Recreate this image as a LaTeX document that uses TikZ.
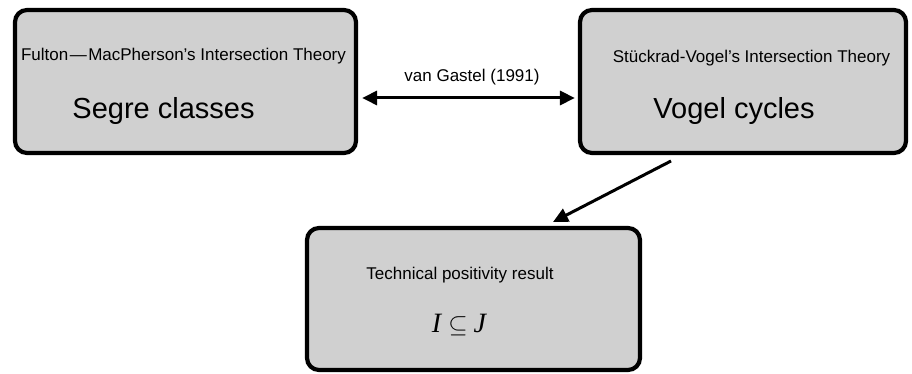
\documentclass[tikz,border=0pt]{standalone}
\usepackage{fontspec}
\setmainfont{Liberation Sans}
\newfontfamily\timesit{Liberation Serif}
\usetikzlibrary{arrows.meta}
\definecolor{boxgray}{RGB}{208,208,208}
\tikzset{
  box/.style={draw=black, fill=boxgray, line width=4.2pt, rounded corners=12pt, inner sep=0pt, rectangle},
  smalltxt/.style={inner sep=0pt, anchor=base, font=\fontsize{17}{20}\selectfont},
  bigtxt/.style={inner sep=0pt, anchor=base, font=\fontsize{29}{34}\selectfont},
  conn/.style={line width=3pt, -{Triangle[length=15pt,width=14pt]}},
}
\begin{document}
\begin{tikzpicture}[x=1pt,y=-1pt]
\useasboundingbox (0,0) rectangle (912,374);
\node[box, minimum width=341pt, minimum height=143pt] (L) at (185.5,81.5) {};
\node[box, minimum width=326pt, minimum height=143pt] (R) at (743,81.5) {};
\node[box, minimum width=333pt, minimum height=142pt] (B) at (473.5,299) {};
\node[smalltxt] (Lt) at (183.5,61) {Fulton\kern1.5pt—\kern1.5pt MacPherson’s Intersection Theory};
\node[bigtxt] (Lb) at (163.5,119) {Segre classes};
\node[smalltxt] (Rt) at (751.5,63) {Stückrad-Vogel’s Intersection Theory};
\node[bigtxt] (Rb) at (734,119) {Vogel cycles};
\node[smalltxt] (Bt) at (460,279) {Technical positivity result};
\node[inner sep=0pt, anchor=base, font=\fontsize{28}{32}\selectfont] (Bb) at (459,332)
  {{\timesit\itshape I}\kern7pt$\subseteq$\kern6pt{\timesit\itshape J}};
\node[smalltxt] (lab) at (472,82) {van Gastel (1991)};
\draw[line width=3pt, {Triangle[length=15pt,width=14pt]}-{Triangle[length=15pt,width=14pt]}]
  ([yshift=-16.5pt]L.east) ++(4pt,0) -- ([yshift=-16.5pt,xshift=-3pt]R.west);
\coordinate (ds) at (671,161);
\coordinate (de) at (553,222);
\draw[conn] (ds) -- (de);
\end{tikzpicture}
\end{document}
